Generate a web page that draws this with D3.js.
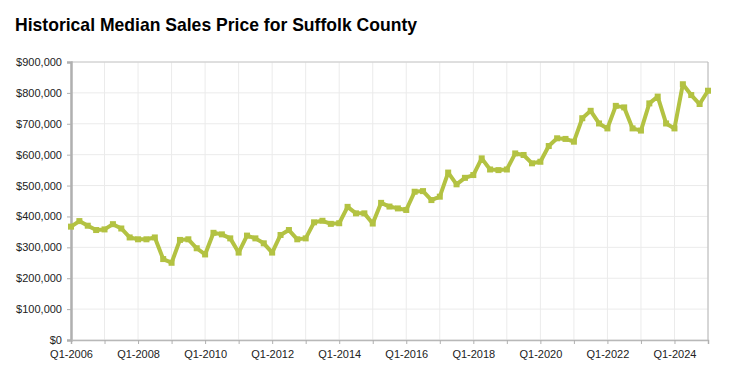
<!DOCTYPE html>
<html>
<head>
<meta charset="utf-8">
<script src="https://cdn.jsdelivr.net/npm/d3@7"></script>
<style>
  body { margin: 0; background: #fff; }
  svg { display: block; }
</style>
</head>
<body>
<div id="chart"></div>
<script>
// data
const quarters = [];
for (let yr = 2006; yr <= 2025; yr++) {
  for (let q = 1; q <= 4; q++) {
    if (yr === 2025 && q > 1) break;
    quarters.push(`Q${q}-${yr}`);
  }
}

const prices = [
  367000, 385000, 370000, 356000,
  358000, 375000, 361000, 332000,
  326000, 326000, 332000, 262000,
  250000, 324000, 326000, 297000,
  277000, 347000, 342000, 329000,
  283000, 338000, 329000, 313000,
  283000, 340000, 356000, 326000,
  329000, 381000, 386000, 376000,
  378000, 431000, 410000, 410000,
  377000, 444000, 432000, 426000,
  421000, 480000, 482000, 453000,
  464000, 542000, 504000, 525000,
  534000, 588000, 552000, 550000,
  552000, 604000, 599000, 572000,
  577000, 628000, 653000, 651000,
  642000, 718000, 742000, 701000,
  685000, 758000, 753000, 685000,
  678000, 766000, 788000, 701000,
  685000, 828000, 793000, 764000,
  807000
];

const yTicks = [0, 100000, 200000, 300000, 400000, 500000, 600000, 700000, 800000, 900000];

const title = 'Historical Median Sales Price for Suffolk County';
const lineColor = '#b3c242';

// layout
const width = 734, height = 376;
const margins = { top: 62, right: 26, bottom: 36, left: 71 };
const innerW = width - margins.left - margins.right;
const innerH = height - margins.top - margins.bottom;

const $svg = d3.select('#chart').append('svg')
  .attr('width', width)
  .attr('height', height);

$svg.append('text')
  .attr('x', 15)
  .attr('y', 31)
  .attr('font-family', '"Liberation Sans Narrow", "Liberation Sans", Arial, sans-serif')
  .attr('font-weight', 'bold')
  .attr('font-size', 19)
  .attr('textLength', 402)
  .attr('lengthAdjust', 'spacingAndGlyphs')
  .attr('fill', '#000')
  .text(title);

const xScale = d3.scaleLinear()
  .domain([0, quarters.length - 1])
  .range([0, innerW]);

const yScale = d3.scaleLinear()
  .domain([0, 900000])
  .range([innerH, 0]);

const $g = $svg.append('g')
  .attr('transform', `translate(${margins.left}, ${margins.top})`);

// gridlines
const yearIdx = d3.range(0, quarters.length, 4);

$g.append('g')
  .selectAll('line')
  .data(yTicks)
  .enter()
  .append('line')
  .attr('x1', 0)
  .attr('x2', innerW)
  .attr('y1', d => yScale(d))
  .attr('y2', d => yScale(d))
  .style('stroke', '#ebebeb')
  .style('stroke-width', 1);

$g.append('g')
  .selectAll('line')
  .data(yearIdx)
  .enter()
  .append('line')
  .attr('x1', d => xScale(d))
  .attr('x2', d => xScale(d))
  .attr('y1', 0)
  .attr('y2', innerH)
  .style('stroke', '#ebebeb')
  .style('stroke-width', 1);

// frame top/right
$g.append('line')
  .attr('x1', 0).attr('x2', innerW)
  .attr('y1', 0).attr('y2', 0)
  .style('stroke', '#c8c8c8');
$g.append('line')
  .attr('x1', innerW).attr('x2', innerW)
  .attr('y1', 0).attr('y2', innerH)
  .style('stroke', '#b8b8b8');

// axes
const yAxis = d3.axisLeft(yScale)
  .tickValues(yTicks)
  .tickSize(4)
  .tickPadding(5)
  .tickFormat(d => '$' + d3.format(',')(d));

const xAxis = d3.axisBottom(xScale)
  .tickValues(yearIdx)
  .tickSize(4)
  .tickPadding(6)
  .tickFormat(d => (d / 4) % 2 === 0 ? quarters[d] : '');

const $yAxis = $g.append('g')
  .call(yAxis);

const $xAxis = $g.append('g')
  .attr('transform', `translate(0, ${innerH})`)
  .call(xAxis);

[$xAxis, $yAxis].forEach($a => {
  $a.selectAll('text')
    .attr('font-family', '"Liberation Sans", Arial, sans-serif')
    .attr('font-size', 11)
    .attr('fill', '#222');
  $a.selectAll('.tick line').style('stroke', '#b0b0b0');
});
$yAxis.select('.domain').style('stroke', '#b0b0b0').style('stroke-width', 2.5);
$xAxis.select('.domain').style('stroke', '#b8b8b8').style('stroke-width', 1.5);

// line + markers
const line = d3.line()
  .x((d, i) => xScale(i))
  .y(d => yScale(d));

$g.append('path')
  .datum(prices)
  .attr('d', line)
  .style('fill', 'none')
  .style('stroke', lineColor)
  .style('stroke-width', 4)
  .style('stroke-linejoin', 'round');

$g.selectAll('.dot')
  .data(prices)
  .enter()
  .append('rect')
  .classed('dot', true)
  .attr('x', (d, i) => xScale(i) - 3)
  .attr('y', d => yScale(d) - 3)
  .attr('width', 6)
  .attr('height', 6)
  .style('fill', lineColor);
</script>
</body>
</html>
